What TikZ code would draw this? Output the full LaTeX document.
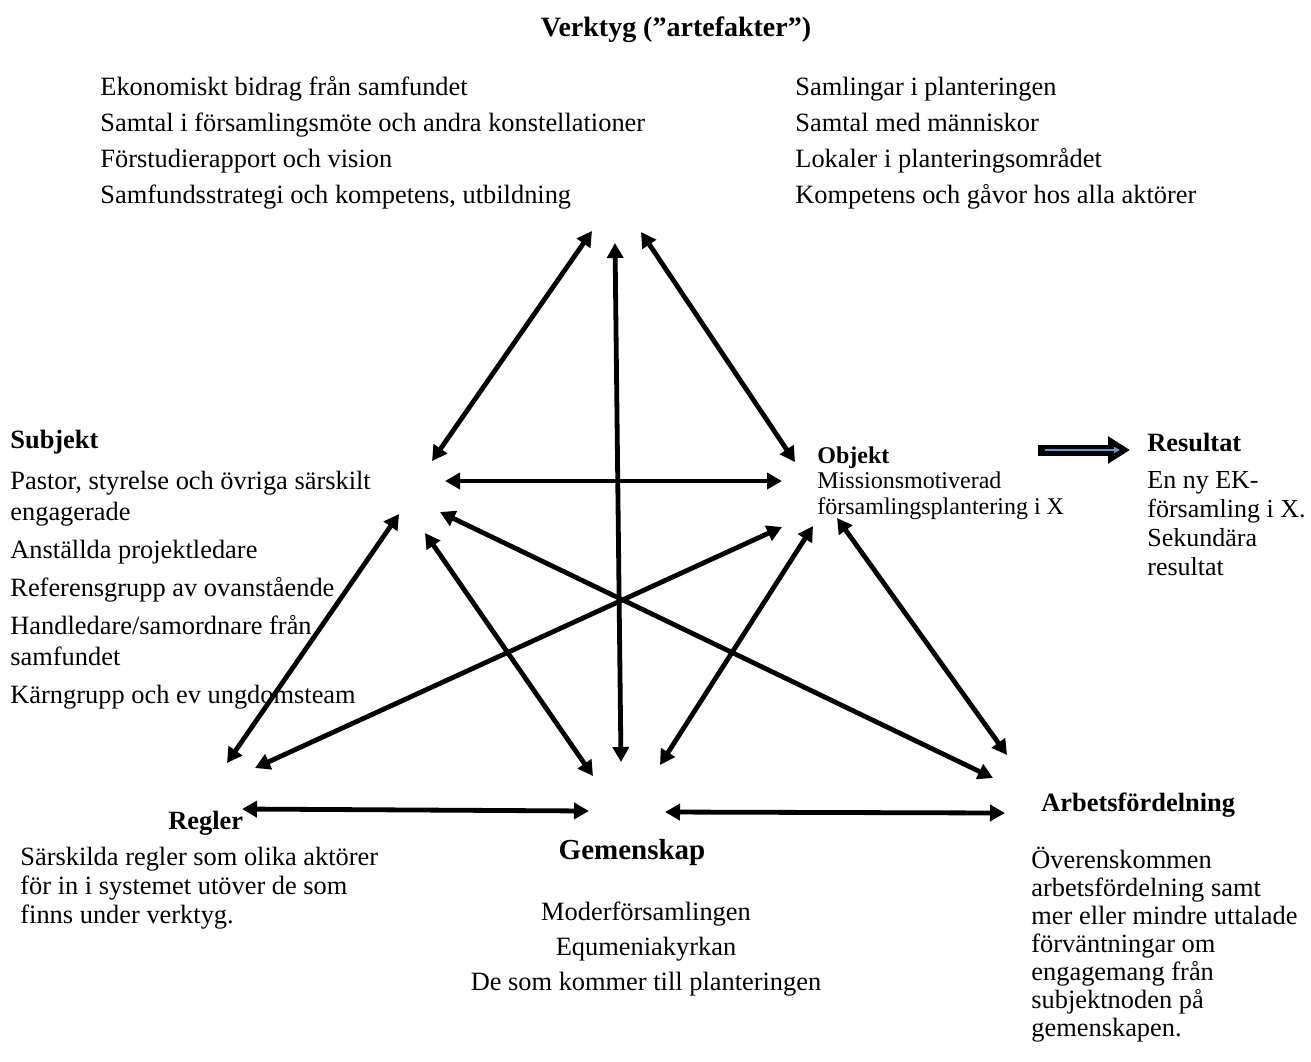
\documentclass[tikz,border=0pt]{standalone}
\usepackage{fontspec}
\setmainfont{Liberation Serif}
\usetikzlibrary{arrows.meta}
\definecolor{resblue}{RGB}{91,155,213}

\begin{document}
\begin{tikzpicture}[x=0.5pt, y=-0.5pt]
  \tikzset{
    link/.style={line width=2.4pt, {Triangle[length=7.5pt,width=8pt]}-{Triangle[length=7.5pt,width=8pt]}},
    heading/.style={font=\bfseries\fontsize{13.2}{15}\selectfont, inner sep=0pt, anchor=base west},
    body/.style={font=\fontsize{13.2}{18}\selectfont, align=left, inner sep=0pt, anchor=base west}
  }
  \useasboundingbox (0,0) rectangle (1311,1061);

  % Verktyg (top)
  \node[heading, anchor=base, font=\bfseries\fontsize{14}{16}\selectfont] (verktyg) at (676,36) {Verktyg (”artefakter”)};
  \node[body] (toolsL) at (100,203) {Ekonomiskt bidrag från samfundet\\
    Samtal i församlingsmöte och andra konstellationer\\
    Förstudierapport och vision\\
    Samfundsstrategi och kompetens, utbildning};
  \node[body] (toolsR) at (795,203) {Samlingar i planteringen\\
    Samtal med människor\\
    Lokaler i planteringsområdet\\
    Kompetens och gåvor hos alla aktörer};

  % Subjekt
  \node[heading] (subjekt) at (10,448) {Subjekt};
  \node[body, font=\fontsize{13.2}{15.5}\selectfont] (subjtext) at (10,703) {Pastor, styrelse och övriga särskilt\\
    engagerade\\[3.5pt]
    Anställda projektledare\\[3.5pt]
    Referensgrupp av ovanstående\\[3.5pt]
    Handledare/samordnare från\\
    samfundet\\[3.5pt]
    Kärngrupp och ev ungdomsteam};

  % Objekt
  \node[heading, font=\bfseries\fontsize{12}{13}\selectfont] (objekt) at (817,463) {Objekt};
  \node[body, font=\fontsize{12}{13}\selectfont] (objtext) at (817,514) {Missionsmotiverad\\
    församlingsplantering i X};

  % Resultat
  \node[heading] (resultat) at (1147,451) {Resultat};
  \node[body, font=\fontsize{13}{14.5}\selectfont] (restext) at (1147,575) {En ny EK-\\
    församling i X.\\
    Sekundära\\
    resultat};
  \coordinate (resfrom) at (1038,450);
  \coordinate (resto) at (1130,450);
  \draw[line width=5.5pt, -{Triangle[length=11pt,width=13pt]}] (resfrom) -- (resto);
  \draw[resblue, line width=1.2pt, -{Triangle[length=3pt,width=3pt]}] ([xshift=3.5pt]resfrom) -- ([xshift=-5pt]resto);

  % Regler
  \node[heading] (regler) at (168,829) {Regler};
  \node[body, font=\fontsize{13.2}{14.5}\selectfont] (regtext) at (20,923) {Särskilda regler som olika aktörer\\
    för in i systemet utöver de som\\
    finns under verktyg.};

  % Gemenskap
  \node[heading, anchor=base, font=\bfseries\fontsize{14.5}{16}\selectfont] (gemenskap) at (632,859) {Gemenskap};
  \node[body, align=center, anchor=base, font=\fontsize{13.2}{17.5}\selectfont] (gemtext) at (646,990) {Moderförsamlingen\\
    Equmeniakyrkan\\
    De som kommer till planteringen};

  % Arbetsfoerdelning
  \node[heading] (arbete) at (1041,811) {Arbetsfördelning};
  \node[body, font=\fontsize{13.2}{14}\selectfont] (arbtext) at (1031,1036) {Överenskommen\\
    arbetsfördelning samt\\
    mer eller mindre uttalade\\
    förväntningar om\\
    engagemang från\\
    subjektnoden på\\
    gemenskapen.};

  % arrow ends
  \coordinate (s-v) at (432,461);  \coordinate (v-s) at (592,231);
  \coordinate (v-g) at (615,243);  \coordinate (g-v) at (621,762);
  \coordinate (v-o) at (641,232);  \coordinate (o-v) at (795,462);
  \coordinate (s-o) at (445,481);  \coordinate (o-s) at (782,481);
  \coordinate (s-r) at (399,514);  \coordinate (r-s) at (227,763);
  \coordinate (s-a) at (440,512);  \coordinate (a-s) at (993,778);
  \coordinate (s-g) at (425,533);  \coordinate (g-s) at (593,776);
  \coordinate (r-o) at (255,768);  \coordinate (o-r) at (782,527);
  \coordinate (g-o) at (660,765);  \coordinate (o-g) at (813,526);
  \coordinate (a-o) at (1007,755); \coordinate (o-a) at (837,518);
  \coordinate (r-g) at (242,809);  \coordinate (g-r) at (589,811);
  \coordinate (g-a) at (665,812);  \coordinate (a-g) at (1005,813);

  % links between the six corners
  \foreach \a/\b in {s-v/v-s, v-g/g-v, v-o/o-v, s-o/o-s, s-r/r-s, s-a/a-s,
      s-g/g-s, r-o/o-r, g-o/o-g, a-o/o-a, r-g/g-r, g-a/a-g}
    \draw[link] (\a) -- (\b);

\end{tikzpicture}
\end{document}
